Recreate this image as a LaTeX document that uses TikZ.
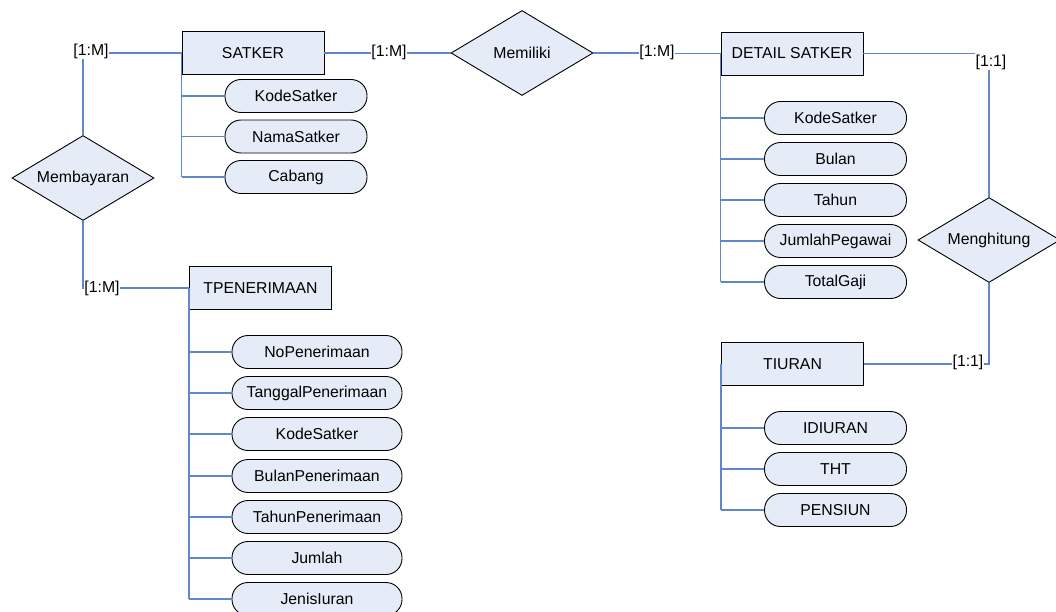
\documentclass[tikz,border=0pt]{standalone}
\usepackage{fontspec}
\setmainfont{Liberation Sans}
\usetikzlibrary{shapes.geometric}
\definecolor{boxfill}{RGB}{230,236,247}
\definecolor{lnblue}{RGB}{95,135,205}
\begin{document}
\begin{tikzpicture}[x=1pt,y=-1pt,
  every node/.style={font=\fontsize{15.8}{18}\selectfont},
  entity/.style={draw=black,fill=boxfill,line width=0.9pt,minimum width=142pt,minimum height=43pt,inner sep=0pt},
  attr/.style={draw=black,fill=boxfill,line width=0.9pt,rounded corners=16pt,minimum width=142pt,minimum height=33pt,inner sep=0pt},
  wattr/.style={attr,minimum width=170pt},
  rel/.style={diamond,draw=black,fill=boxfill,line width=0.9pt,minimum width=142pt,minimum height=85pt,inner sep=0pt,aspect=1.7},
  card/.style={inner sep=0.5pt},
  conn/.style={draw=lnblue,line width=1.3pt}
]
\useasboundingbox (0,0) rectangle (1056,612);

% entities
\node[entity] (satker) at (253,53) {SATKER};
\node[entity] (detail) at (792,53.5) {DETAIL SATKER};
\node[entity] (tpen) at (260.5,288) {TPENERIMAAN};
\node[entity] (tiuran) at (792.5,364) {TIURAN};

% relationships
\node[rel] (memb) at (83,178) {Membayaran};
\node[rel] (memil) at (522,53) {Memiliki};
\node[rel] (mengh) at (989,240) {Menghitung};

% cardinalities
\node[card] (cA) at (91,51) {[1:M]};
\node[card] (cB) at (389,52) {[1:M]};
\node[card] (cC) at (657,52) {[1:M]};
\node[card] (cD) at (991,62) {[1:1]};
\node[card] (cE) at (968,362) {[1:1]};
\node[card] (cF) at (102,288) {[1:M]};

% SATKER attributes
\node[attr] (s1) at (296,96) {KodeSatker};
\node[attr] (s2) at (296,136.5) {NamaSatker};
\node[attr] (s3) at (296,177) {Cabang};

% DETAIL SATKER attributes
\node[attr] (d1) at (835.5,118) {KodeSatker};
\node[attr] (d2) at (835.5,159) {Bulan};
\node[attr] (d3) at (835.5,200) {Tahun};
\node[attr] (d4) at (835.5,241) {JumlahPegawai};
\node[attr] (d5) at (835.5,282) {TotalGaji};

% TIURAN attributes
\node[attr] (i1) at (835.5,428) {IDIURAN};
\node[attr] (i2) at (835.5,469) {THT};
\node[attr] (i3) at (835.5,510) {PENSIUN};

% TPENERIMAAN attributes
\node[wattr] (t1) at (317,352) {NoPenerimaan};
\node[wattr] (t2) at (317,393) {TanggalPenerimaan};
\node[wattr] (t3) at (317,434) {KodeSatker};
\node[wattr] (t4) at (317,476) {BulanPenerimaan};
\node[wattr] (t5) at (317,517) {TahunPenerimaan};
\node[wattr] (t6) at (317,558) {Jumlah};
\node[wattr] (t7) at (317,599) {JenisIuran};

% relationship connectors
\draw[conn] (satker.west) -- (satker.west -| cA.east);
\draw[conn] (memb.north |- cA.south) -- (memb.north);
\draw[conn] (memb.south) -- (memb.south |- tpen.west) -- (tpen.west -| cF.west);
\draw[conn] (tpen.west -| cF.east) -- (tpen.west);
\draw[conn] (satker.east) -- (satker.east -| cB.west);
\draw[conn] (memil.west -| cB.east) -- (memil.west);
\draw[conn] (memil.east) -- (memil.east -| cC.west);
\draw[conn] (detail.west -| cC.east) -- (detail.west);
\draw[conn] (detail.east) -- (detail.east -| cD.west);
\draw[conn] (mengh.north |- cD.south) -- (mengh.north);
\draw[conn] (mengh.south) -- (mengh.south |- tiuran.east) -- (tiuran.east -| cE.east);
\draw[conn] (tiuran.east -| cE.west) -- (tiuran.east);

% attribute connectors
\draw[conn] (satker.west) -- (satker.west |- s3.west);
\foreach \a in {s1,s2,s3} \draw[conn] (satker.west |- \a.west) -- (\a.west);
\draw[conn] (detail.west) -- (detail.west |- d5.west);
\foreach \a in {d1,d2,d3,d4,d5} \draw[conn] (detail.west |- \a.west) -- (\a.west);
\draw[conn] (tiuran.west) -- (tiuran.west |- i3.west);
\foreach \a in {i1,i2,i3} \draw[conn] (tiuran.west |- \a.west) -- (\a.west);
\draw[conn] (tpen.west) -- (tpen.west |- t7.west);
\foreach \a in {t1,t2,t3,t4,t5,t6,t7} \draw[conn] (tpen.west |- \a.west) -- (\a.west);
\end{tikzpicture}
\end{document}
